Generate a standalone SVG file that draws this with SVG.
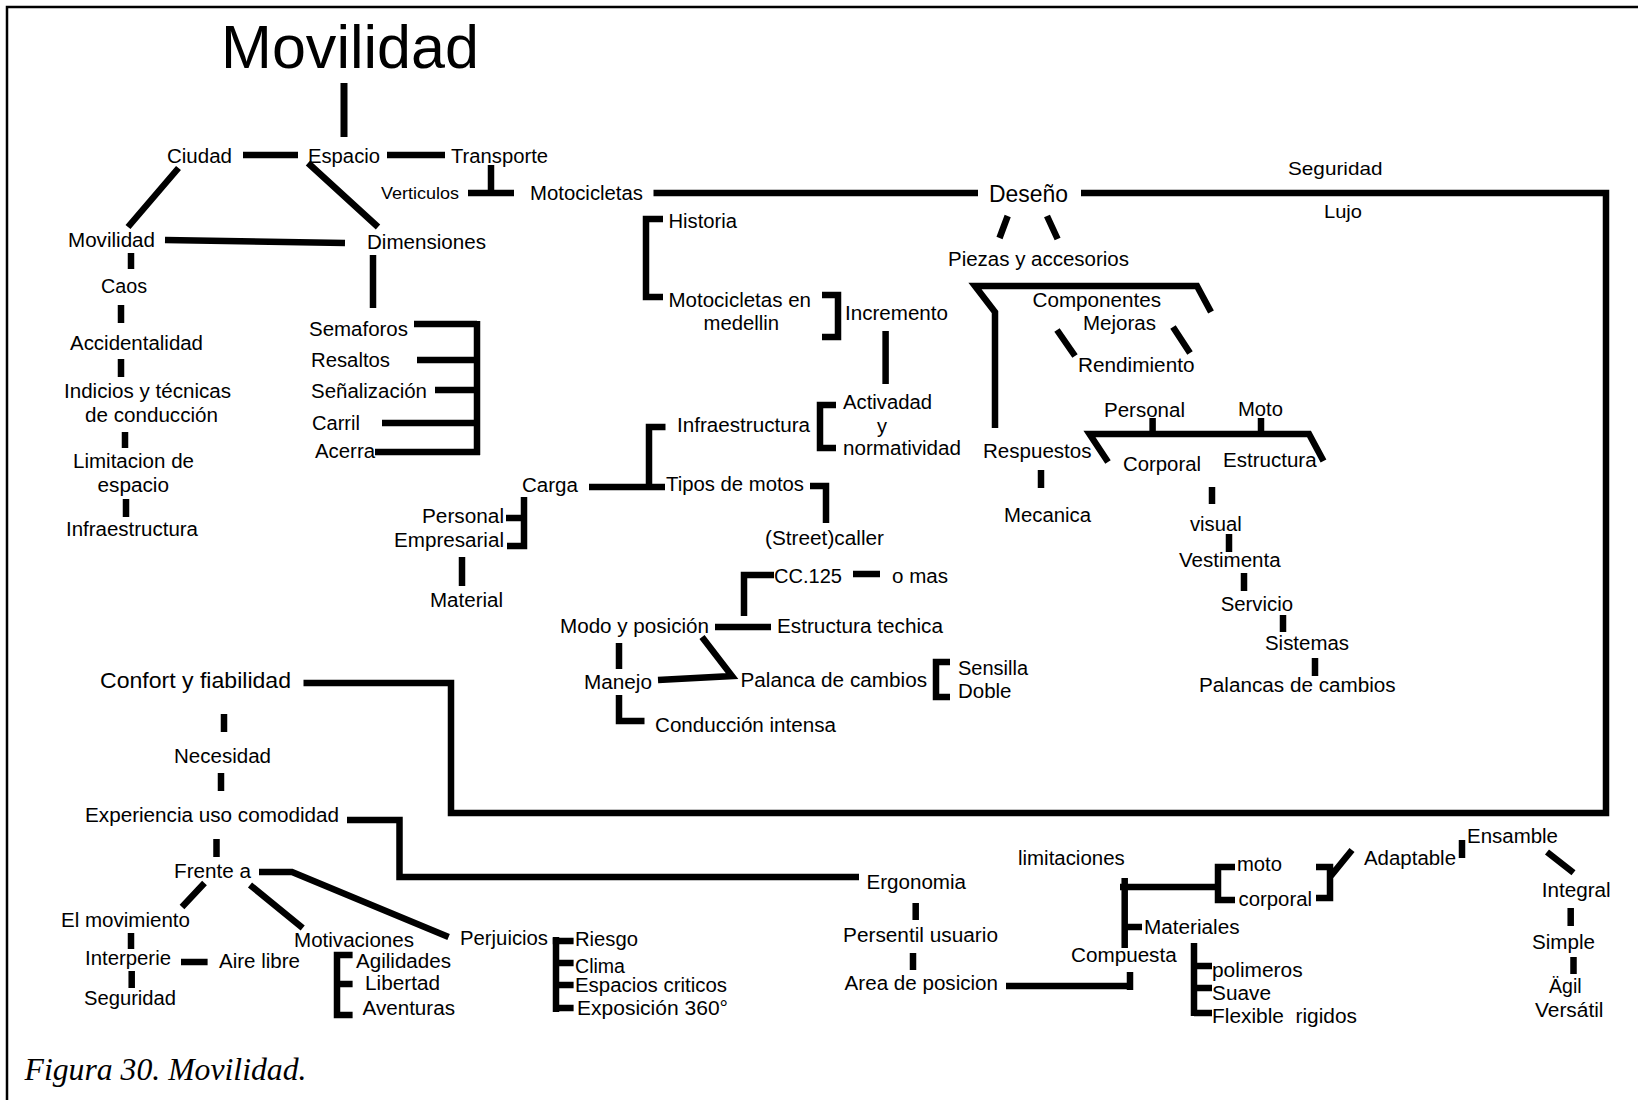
<svg xmlns="http://www.w3.org/2000/svg" width="1638" height="1100" viewBox="0 0 1638 1100">
<style>
  text { font-family: "Liberation Sans", Arial, sans-serif; font-size: 20px; fill: #000; }
  .sm { font-size: 17px; }
  .md { font-size: 19px; }
  .lg { font-size: 23px; }
  .cf { font-size: 22px; }
  .title { font-size: 61px; }
  .cap { font-family: "Liberation Serif", "Times New Roman", serif; font-style: italic; font-size: 32px; }
  .ln { fill: none; stroke: #000; stroke-width: 6.5; stroke-linecap: butt; stroke-linejoin: miter; }
  .frame { fill: none; stroke: #000; stroke-width: 2.5; }
</style>
<rect width="1638" height="1100" fill="#fff"/>
<path class="frame" d="M7,1100 V7 H1638"/>

<g id="connectors">
  <path class="ln" style="stroke-width:7" d="M344,83 V137"/>
  <path class="ln" d="M243,155 H298 M387,155 H445"/>
  <path class="ln" d="M491,165 V193 M468,193 H514"/>
  <path class="ln" d="M178.5,168 L128,227 M308,163 L378,227"/>
  <path class="ln" d="M165,240 L345,243"/>
  <path class="ln" d="M131,253 V269 M121,305 V323 M121,359 V377 M125,432 V448 M126,499 V517"/>
  <path class="ln" d="M373,255 V308"/>
  <path class="ln" d="M414,324 H477 M417,360 H477 M435,390 H477 M382,423 H477 M375,452 H480 M477,321 V455"/>
  <path class="ln" d="M653.5,193 H978"/>
  <path class="ln" d="M1081,193 H1606 V813 H451 V683 H303.5"/>
  <path class="ln" d="M1007.7,216 L999.5,238 M1047,216 L1057.6,239"/>
  <path class="ln" d="M663,219 H646 V297 H663"/>
  <path class="ln" d="M822,295 H838 V337 H822"/>
  <path class="ln" d="M885.6,331 V384"/>
  <path class="ln" d="M836,405 H820 V448 H836"/>
  <path class="ln" d="M665.5,427 H649 V488 M589,487 H665"/>
  <path class="ln" d="M810,486 H826 V523"/>
  <path class="ln" d="M506,518 H524 M524,497 V546 H507"/>
  <path class="ln" d="M462,557 V586"/>
  <path class="ln" d="M774,575 H744 V616 M853,574 H880"/>
  <path class="ln" d="M715,627 H771 M619,643 V669"/>
  <path class="ln" d="M702,637 L732,676 L658,680"/>
  <path class="ln" d="M950,662 H936 V697 H950"/>
  <path class="ln" d="M619,695 V721 H644.5"/>
  <path class="ln" d="M995,428 V312 L975,286 H1197 L1211,312"/>
  <path class="ln" d="M1057,330 L1075,356 M1173,327 L1190,353"/>
  <path class="ln" d="M1108,462 L1089.5,434 H1309 L1323.5,461 M1152.6,418 V434 M1261,418 V434"/>
  <path class="ln" d="M1041,470 V488"/>
  <path class="ln" d="M1212,487 V504 M1229,534 V552 M1244,573 V591 M1283,615 V632 M1315,658 V676"/>
  <path class="ln" d="M224,714 V732 M221,773 V791 M216.5,839 V857"/>
  <path class="ln" d="M347,820 H399.5 V877 H859"/>
  <path class="ln" d="M259,872 H292 L448.6,937"/>
  <path class="ln" d="M204.5,883 L182,907 M250,885 L302.7,928"/>
  <path class="ln" d="M131,933 V949 M181,962 H207.6 M131.7,971 V988"/>
  <path class="ln" d="M352.6,955 H337 V1015 H352.6 M337,984 H352.6"/>
  <path class="ln" d="M552.6,941 H573.6 M556,937 V1012 M556,963 H573.6 M556,985 H573.6 M556,1008 H573.6"/>
  <path class="ln" d="M915.7,903 V920 M913,953 V970"/>
  <path class="ln" d="M1006,986 H1130 M1130,972 V990"/>
  <path class="ln" d="M1120,887 H1218 M1124.7,878 V948 M1125,927 H1142"/>
  <path class="ln" d="M1235,867 H1218 V900 H1235"/>
  <path class="ln" d="M1316,867 H1330 V898 H1316 M1330,877 L1352,850"/>
  <path class="ln" d="M1462,840 V858 M1547,852 L1573.5,872.7 M1570.7,908 V926 M1573.5,957 V974"/>
  <path class="ln" d="M1194,943 V1016 M1194,966 H1212 M1194,988 H1212 M1194,1013 H1212"/>
</g>

<g id="n-movilidad-title"><text class="title" x="221" y="68" textLength="258" lengthAdjust="spacingAndGlyphs">Movilidad</text></g>
<g id="n-ciudad"><text x="167" y="163" textLength="65" lengthAdjust="spacingAndGlyphs">Ciudad</text></g>
<g id="n-espacio"><text x="308" y="163" textLength="72" lengthAdjust="spacingAndGlyphs">Espacio</text></g>
<g id="n-transporte"><text x="451" y="163" textLength="97" lengthAdjust="spacingAndGlyphs">Transporte</text></g>
<g id="n-verticulos"><text class="sm" x="381" y="199" textLength="78" lengthAdjust="spacingAndGlyphs">Verticulos</text></g>
<g id="n-motocicletas"><text x="530" y="200" textLength="113" lengthAdjust="spacingAndGlyphs">Motocicletas</text></g>
<g id="n-deseno"><text class="lg" x="989" y="202" textLength="79" lengthAdjust="spacingAndGlyphs">Deseño</text></g>
<g id="n-seguridad-top"><text class="md" x="1288" y="175" textLength="94.5" lengthAdjust="spacingAndGlyphs">Seguridad</text></g>
<g id="n-lujo"><text class="md" x="1324" y="218" textLength="38" lengthAdjust="spacingAndGlyphs">Lujo</text></g>
<g id="n-movilidad"><text x="68" y="247" textLength="87" lengthAdjust="spacingAndGlyphs">Movilidad</text></g>
<g id="n-dimensiones"><text x="367" y="249" textLength="119" lengthAdjust="spacingAndGlyphs">Dimensiones</text></g>
<g id="n-caos"><text x="101" y="293" textLength="46" lengthAdjust="spacingAndGlyphs">Caos</text></g>
<g id="n-accidentalidad"><text x="70" y="350" textLength="133" lengthAdjust="spacingAndGlyphs">Accidentalidad</text></g>
<g id="n-indicios">
  <text x="64" y="398" textLength="167" lengthAdjust="spacingAndGlyphs">Indicios y técnicas</text>
  <text x="85" y="422" textLength="133" lengthAdjust="spacingAndGlyphs">de conducción</text>
</g>
<g id="n-limitacion">
  <text x="73" y="468" textLength="121" lengthAdjust="spacingAndGlyphs">Limitacion de</text>
  <text x="97.5" y="492" textLength="71.5" lengthAdjust="spacingAndGlyphs">espacio</text>
</g>
<g id="n-infraestructura-left"><text x="66" y="536" textLength="132" lengthAdjust="spacingAndGlyphs">Infraestructura</text></g>
<g id="n-semaforos"><text x="309" y="336" textLength="99" lengthAdjust="spacingAndGlyphs">Semaforos</text></g>
<g id="n-resaltos"><text x="311" y="367" textLength="79" lengthAdjust="spacingAndGlyphs">Resaltos</text></g>
<g id="n-senalizacion"><text x="311" y="398" textLength="116" lengthAdjust="spacingAndGlyphs">Señalización</text></g>
<g id="n-carril"><text x="312" y="430" textLength="48" lengthAdjust="spacingAndGlyphs">Carril</text></g>
<g id="n-acerra"><text x="315" y="458" textLength="60" lengthAdjust="spacingAndGlyphs">Acerra</text></g>
<g id="n-historia"><text x="668.5" y="228" textLength="68.5" lengthAdjust="spacingAndGlyphs">Historia</text></g>
<g id="n-moto-medellin">
  <text x="668.5" y="307" textLength="142.5" lengthAdjust="spacingAndGlyphs">Motocicletas en</text>
  <text x="703.5" y="330" textLength="75.5" lengthAdjust="spacingAndGlyphs">medellin</text>
</g>
<g id="n-incremento"><text x="845" y="320" textLength="103" lengthAdjust="spacingAndGlyphs">Incremento</text></g>
<g id="n-activadad">
  <text x="843" y="409" textLength="89" lengthAdjust="spacingAndGlyphs">Activadad</text>
  <text x="877" y="433">y</text>
  <text x="843" y="455" textLength="118" lengthAdjust="spacingAndGlyphs">normatividad</text>
</g>
<g id="n-infraestructura-mid"><text x="677" y="432" textLength="133" lengthAdjust="spacingAndGlyphs">Infraestructura</text></g>
<g id="n-carga"><text x="522" y="492" textLength="56" lengthAdjust="spacingAndGlyphs">Carga</text></g>
<g id="n-tipos"><text x="666" y="491" textLength="138" lengthAdjust="spacingAndGlyphs">Tipos de motos</text></g>
<g id="n-street"><text x="765" y="545" textLength="119" lengthAdjust="spacingAndGlyphs">(Street)caller</text></g>
<g id="n-personal-carga"><text x="422" y="523" textLength="82" lengthAdjust="spacingAndGlyphs">Personal</text></g>
<g id="n-empresarial"><text x="394" y="547" textLength="110" lengthAdjust="spacingAndGlyphs">Empresarial</text></g>
<g id="n-material"><text x="430" y="607" textLength="73" lengthAdjust="spacingAndGlyphs">Material</text></g>
<g id="n-cc125"><text x="774" y="583" textLength="68" lengthAdjust="spacingAndGlyphs">CC.125</text></g>
<g id="n-omas"><text x="892" y="583" textLength="56" lengthAdjust="spacingAndGlyphs">o mas</text></g>
<g id="n-modo"><text x="560" y="633" textLength="149" lengthAdjust="spacingAndGlyphs">Modo y posición</text></g>
<g id="n-estructura-techica"><text x="777" y="633" textLength="166" lengthAdjust="spacingAndGlyphs">Estructura techica</text></g>
<g id="n-manejo"><text x="584" y="689" textLength="68" lengthAdjust="spacingAndGlyphs">Manejo</text></g>
<g id="n-palanca"><text x="740.5" y="687" textLength="186.5" lengthAdjust="spacingAndGlyphs">Palanca de cambios</text></g>
<g id="n-sensilla"><text x="958" y="675" textLength="70" lengthAdjust="spacingAndGlyphs">Sensilla</text></g>
<g id="n-doble"><text x="958" y="698" textLength="53.5" lengthAdjust="spacingAndGlyphs">Doble</text></g>
<g id="n-conduccion"><text x="655" y="732" textLength="181" lengthAdjust="spacingAndGlyphs">Conducción intensa</text></g>
<g id="n-piezas"><text x="948" y="266" textLength="181" lengthAdjust="spacingAndGlyphs">Piezas y accesorios</text></g>
<g id="n-componentes"><text x="1032.5" y="307" textLength="128.5" lengthAdjust="spacingAndGlyphs">Componentes</text></g>
<g id="n-mejoras"><text x="1083" y="330" textLength="73" lengthAdjust="spacingAndGlyphs">Mejoras</text></g>
<g id="n-rendimiento"><text x="1078" y="372" textLength="116.5" lengthAdjust="spacingAndGlyphs">Rendimiento</text></g>
<g id="n-personal-diseno"><text x="1104" y="417" textLength="81" lengthAdjust="spacingAndGlyphs">Personal</text></g>
<g id="n-moto-diseno"><text x="1238" y="416" textLength="45" lengthAdjust="spacingAndGlyphs">Moto</text></g>
<g id="n-respuestos"><text x="983" y="458" textLength="108.5" lengthAdjust="spacingAndGlyphs">Respuestos</text></g>
<g id="n-corporal-diseno"><text x="1123" y="471" textLength="78" lengthAdjust="spacingAndGlyphs">Corporal</text></g>
<g id="n-estructura"><text x="1223" y="467" textLength="93.6" lengthAdjust="spacingAndGlyphs">Estructura</text></g>
<g id="n-mecanica"><text x="1004" y="521.7" textLength="87" lengthAdjust="spacingAndGlyphs">Mecanica</text></g>
<g id="n-visual"><text x="1190" y="530.7" textLength="51.7" lengthAdjust="spacingAndGlyphs">visual</text></g>
<g id="n-vestimenta"><text x="1179" y="566.7" textLength="101.7" lengthAdjust="spacingAndGlyphs">Vestimenta</text></g>
<g id="n-servicio"><text x="1220.7" y="610.7" textLength="72.3" lengthAdjust="spacingAndGlyphs">Servicio</text></g>
<g id="n-sistemas"><text x="1265" y="650" textLength="84" lengthAdjust="spacingAndGlyphs">Sistemas</text></g>
<g id="n-palancas"><text x="1199" y="691.7" textLength="196.7" lengthAdjust="spacingAndGlyphs">Palancas de cambios</text></g>
<g id="n-confort"><text class="cf" x="100" y="688" textLength="191" lengthAdjust="spacingAndGlyphs">Confort y fiabilidad</text></g>
<g id="n-necesidad"><text x="174" y="763" textLength="97" lengthAdjust="spacingAndGlyphs">Necesidad</text></g>
<g id="n-experiencia"><text x="85" y="822" textLength="254" lengthAdjust="spacingAndGlyphs">Experiencia uso comodidad</text></g>
<g id="n-frente"><text x="174" y="878" textLength="77" lengthAdjust="spacingAndGlyphs">Frente a</text></g>
<g id="n-movimiento"><text x="61" y="927" textLength="129" lengthAdjust="spacingAndGlyphs">El movimiento</text></g>
<g id="n-interperie"><text x="85" y="965" textLength="86" lengthAdjust="spacingAndGlyphs">Interperie</text></g>
<g id="n-aire"><text x="219" y="968" textLength="81" lengthAdjust="spacingAndGlyphs">Aire libre</text></g>
<g id="n-seguridad-low"><text x="84" y="1005" textLength="92" lengthAdjust="spacingAndGlyphs">Seguridad</text></g>
<g id="n-motivaciones"><text x="294" y="947" textLength="120" lengthAdjust="spacingAndGlyphs">Motivaciones</text></g>
<g id="n-agilidades"><text x="356" y="968" textLength="95" lengthAdjust="spacingAndGlyphs">Agilidades</text></g>
<g id="n-libertad"><text x="365" y="990" textLength="75" lengthAdjust="spacingAndGlyphs">Libertad</text></g>
<g id="n-aventuras"><text x="362.5" y="1015" textLength="92.5" lengthAdjust="spacingAndGlyphs">Aventuras</text></g>
<g id="n-perjuicios"><text x="460" y="945" textLength="88" lengthAdjust="spacingAndGlyphs">Perjuicios</text></g>
<g id="n-riesgo"><text x="575" y="946" textLength="63" lengthAdjust="spacingAndGlyphs">Riesgo</text></g>
<g id="n-clima"><text x="575" y="972.7" textLength="50" lengthAdjust="spacingAndGlyphs">Clima</text></g>
<g id="n-espacios"><text x="575" y="991.7" textLength="152" lengthAdjust="spacingAndGlyphs">Espacios criticos</text></g>
<g id="n-exposicion"><text x="577" y="1015" textLength="151" lengthAdjust="spacingAndGlyphs">Exposición 360°</text></g>
<g id="n-ergonomia"><text x="866.5" y="889" textLength="99.5" lengthAdjust="spacingAndGlyphs">Ergonomia</text></g>
<g id="n-persentil"><text x="843" y="941.7" textLength="155" lengthAdjust="spacingAndGlyphs">Persentil usuario</text></g>
<g id="n-area"><text x="844.6" y="990" textLength="153.4" lengthAdjust="spacingAndGlyphs">Area de posicion</text></g>
<g id="n-limitaciones"><text x="1018" y="865" textLength="106.7" lengthAdjust="spacingAndGlyphs">limitaciones</text></g>
<g id="n-compuesta"><text x="1071" y="961.7" textLength="105.7" lengthAdjust="spacingAndGlyphs">Compuesta</text></g>
<g id="n-materiales"><text x="1144" y="934" textLength="95.6" lengthAdjust="spacingAndGlyphs">Materiales</text></g>
<g id="n-moto-low"><text x="1237" y="870.7" textLength="45" lengthAdjust="spacingAndGlyphs">moto</text></g>
<g id="n-corporal-low"><text x="1238.6" y="906" textLength="73.4" lengthAdjust="spacingAndGlyphs">corporal</text></g>
<g id="n-polimeros"><text x="1212" y="976.7" textLength="90.6" lengthAdjust="spacingAndGlyphs">polimeros</text></g>
<g id="n-suave"><text x="1212" y="1000" textLength="59" lengthAdjust="spacingAndGlyphs">Suave</text></g>
<g id="n-flexible"><text x="1212" y="1022.7" textLength="145" lengthAdjust="spacingAndGlyphs" xml:space="preserve">Flexible  rigidos</text></g>
<g id="n-adaptable"><text x="1364" y="865" textLength="92" lengthAdjust="spacingAndGlyphs">Adaptable</text></g>
<g id="n-ensamble"><text x="1467" y="843" textLength="91" lengthAdjust="spacingAndGlyphs">Ensamble</text></g>
<g id="n-integral"><text x="1541.7" y="896.7" textLength="69" lengthAdjust="spacingAndGlyphs">Integral</text></g>
<g id="n-simple"><text x="1532" y="949" textLength="63" lengthAdjust="spacingAndGlyphs">Simple</text></g>
<g id="n-agil"><text x="1549" y="993" textLength="32.6" lengthAdjust="spacingAndGlyphs">Ägil</text></g>
<g id="n-versatil"><text x="1535" y="1016.7" textLength="68.5" lengthAdjust="spacingAndGlyphs">Versátil</text></g>

<g id="caption"><text class="cap" x="24.5" y="1080" textLength="282" lengthAdjust="spacingAndGlyphs">Figura 30. Movilidad.</text></g>
</svg>
